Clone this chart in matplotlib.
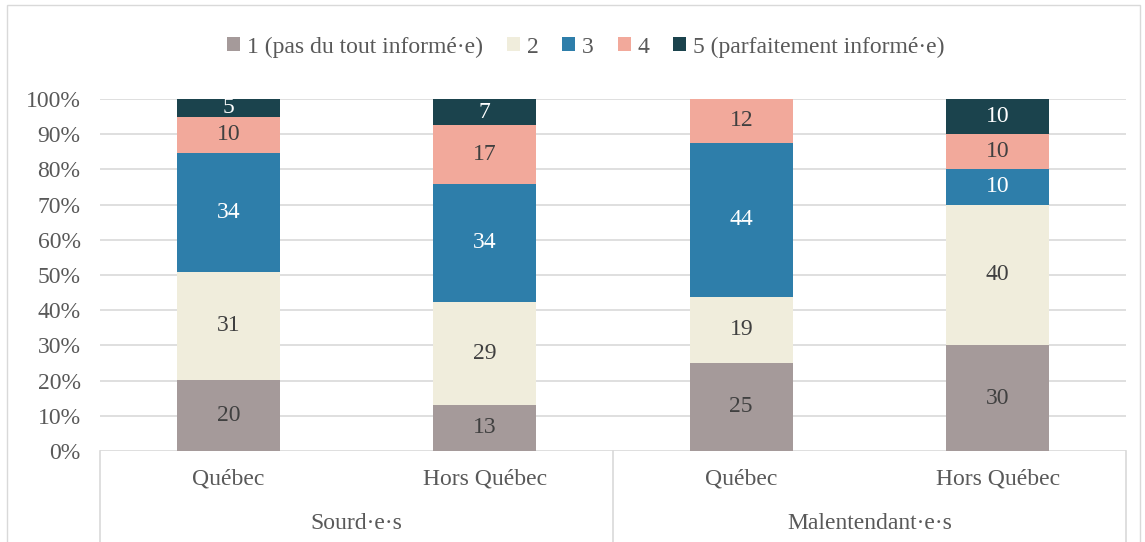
import numpy as np
import matplotlib.pyplot as plt
from matplotlib.patches import Rectangle

plt.rcParams['font.family'] = ['Liberation Serif', 'DejaVu Serif']

places = ["Québec", "Hors Québec", "Québec", "Hors Québec"]
groups = ["Sourd·e·s", "Malentendant·e·s"]
levels = ["1 (pas du tout informé·e)", "2", "3", "4", "5 (parfaitement informé·e)"]

# pourcentages
niv1 = [20.3, 13.1, 25.0, 30.0]
niv2 = [30.6, 29.2, 18.8, 40.0]
niv3 = [33.9, 33.6, 43.8, 10.0]
niv4 = [10.2, 16.7, 12.4, 10.0]
niv5 = [5.0, 7.4, 0.0, 10.0]

colors = ["#A59A9A", "#F0EDDC", "#2E7EAA", "#F2A99B", "#1B434D"]
txtcol = ["#404040", "#404040", "white", "#404040", "white"]

fig = plt.figure(figsize=(11.45, 5.42), dpi=100)
ax = fig.add_axes([100/1145, 1-451/542, 1026/1145, 352/542])

x = np.arange(4) + 0.5
data = [niv1, niv2, niv3, niv4, niv5]
bottom = np.zeros(4)
for i, serie in enumerate(data):
    serie = np.array(serie, dtype=float)
    ax.bar(x, serie, 0.4, bottom=bottom, color=colors[i], label=levels[i], zorder=2)
    for j in range(4):
        if serie[j] > 0:
            ax.text(x[j], bottom[j] + serie[j]/2, str(int(serie[j] + 0.5)), ha='center', va='center',
                    fontsize=17, color=txtcol[i], zorder=3)
    bottom += serie

ax.set_xlim(0, 4)
ax.set_ylim(0, 100)
ax.set_yticks(np.arange(0, 101, 10))
ax.set_yticklabels([f"{v}%" for v in range(0, 101, 10)], fontsize=17, color="#595959")
ax.set_xticks([])
ax.tick_params(axis='y', length=0, pad=14)
for s in ax.spines.values():
    s.set_visible(False)
for v in range(10, 101, 10):
    ax.axhline(v, color="#D9D9D9", lw=1.2, zorder=1)
ax.axhline(0, color="#D9D9D9", lw=1.2, zorder=1)

# boites de categories sous l'axe
for xs in [0, 2, 4]:
    ax.plot([xs, xs], [0, -26], color="#D9D9D9", lw=1.2, clip_on=False)
for j in range(4):
    ax.text(x[j], -8, places[j], ha='center', va='center', fontsize=17, color="#595959")
for k in range(2):
    ax.text(1 + 2*k, -20.5, groups[k], ha='center', va='center', fontsize=17, color="#595959")

fig.patches.append(Rectangle((7/1145, -0.01), 1133/1145, 1 - 5/542 + 0.01, transform=fig.transFigure,
                             fill=False, edgecolor="#D9D9D9", lw=1))

fig.legend(loc='center', bbox_to_anchor=(586/1145, 1-47/542), ncol=5, frameon=False,
           fontsize=17, handlelength=0.55, handleheight=0.55, handletextpad=0.3,
           columnspacing=1.0, labelcolor="#595959")

plt.savefig("out.png", dpi=100)
